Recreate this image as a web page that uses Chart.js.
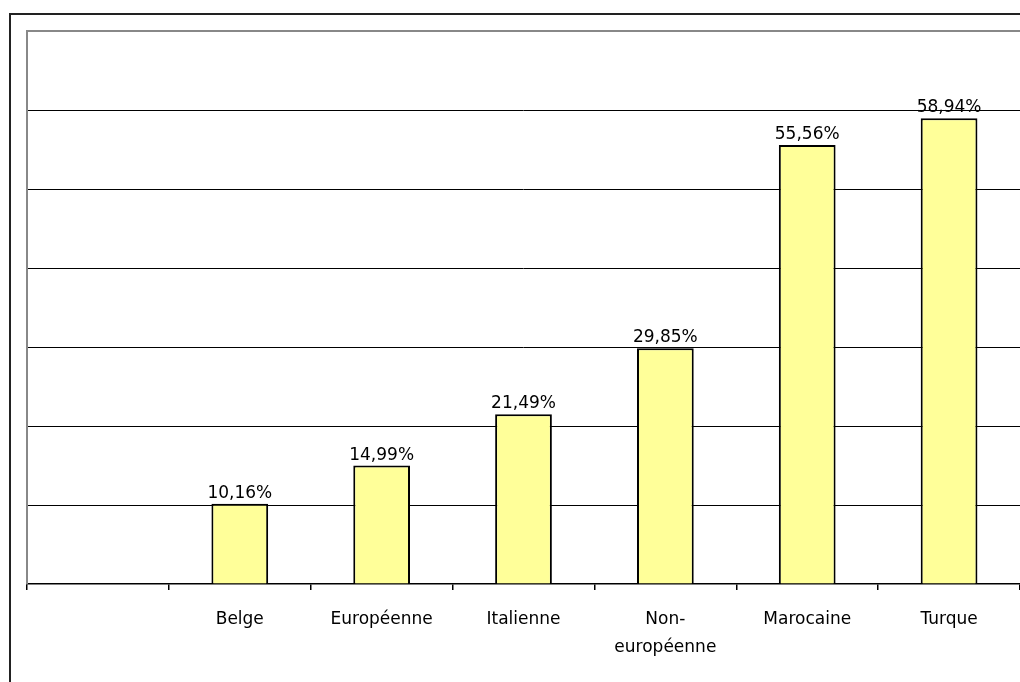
<!DOCTYPE html>
<html>
<head>
<meta charset="utf-8">
<script src="https://cdn.jsdelivr.net/npm/chart.js@4"></script>
<style>
  body { margin: 0; background: #fff; }
  #wrap { position: relative; width: 1020px; height: 682px; overflow: hidden; }
  #frame { position: absolute; left: 9px; top: 13px; width: 1100px; height: 800px; border-left: 2px solid #222; border-top: 2px solid #222; }
  canvas { position: absolute; left: 0; top: 0; }
</style>
</head>
<body>
<div id="wrap">
  <div id="frame"></div>
  <canvas id="chart" width="1020" height="682"></canvas>
</div>
<script>
const labels = ['', 'Belge', 'Européenne', 'Italienne', ['Non-', 'européenne'], 'Marocaine', 'Turque'];
const values = [null, 10.16, 14.99, 21.49, 29.85, 55.56, 58.94];
const yMax = 70;
const yStep = 10;

const FONT = '"Comic Sans MS", "DejaVu Sans", sans-serif';

// percentage labels above each bar
const valueLabels = {
    id: 'valueLabels',
    afterDatasetsDraw(chart) {
        const ctx = chart.ctx;
        const meta = chart.getDatasetMeta(0);
        ctx.save();
        ctx.font = '17px ' + FONT;
        ctx.fillStyle = '#000';
        ctx.textAlign = 'center';
        ctx.textBaseline = 'alphabetic';
        meta.data.forEach((bar, i) => {
            const v = values[i];
            if (v == null) return;
            ctx.fillText(v.toFixed(2).replace('.', ',') + '%', bar.x, bar.y - 6);
        });
        ctx.restore();
    }
};

// grey frame of the plot area (top + left)
const plotFrame = {
    id: 'plotFrame',
    beforeDatasetsDraw(chart) {
        const a = chart.chartArea;
        const ctx = chart.ctx;
        ctx.save();
        ctx.strokeStyle = '#888';
        ctx.lineWidth = 2;
        ctx.beginPath();
        ctx.moveTo(a.left, a.bottom);
        ctx.lineTo(a.left, a.top);
        ctx.lineTo(a.right + 2, a.top);
        ctx.stroke();
        ctx.restore();
    }
};

new Chart(document.getElementById('chart'), {
    type: 'bar',
    data: {
        labels: labels,
        datasets: [{
            data: values,
            backgroundColor: '#FFFF99',
            borderColor: '#000',
            borderWidth: 2,
            categoryPercentage: 1,
            barPercentage: 0.4
        }]
    },
    options: {
        responsive: false,
        animation: false,
        layout: { padding: { left: 27, top: 31, right: 0, bottom: 0 } },
        plugins: { legend: { display: false }, tooltip: { enabled: false } },
        scales: {
            x: {
                grid: { drawOnChartArea: false, drawTicks: true, tickLength: 6, color: '#000', lineWidth: 1.5 },
                border: { color: '#000', width: 1.5 },
                ticks: { color: '#000', font: { family: FONT, size: 17, lineHeight: 1.65 }, padding: 16, maxRotation: 0, autoSkip: false },
                afterFit(scale) { scale.height = 98; }
            },
            y: {
                min: 0,
                max: yMax,
                ticks: { stepSize: yStep, display: false },
                grid: {
                    drawTicks: false,
                    color: ctx => ctx.tick.value === yMax || ctx.tick.value === 0 ? 'rgba(0,0,0,0)' : '#000',
                    lineWidth: 1
                },
                border: { display: false }
            }
        }
    },
    plugins: [plotFrame, valueLabels]
});
</script>
</body>
</html>
